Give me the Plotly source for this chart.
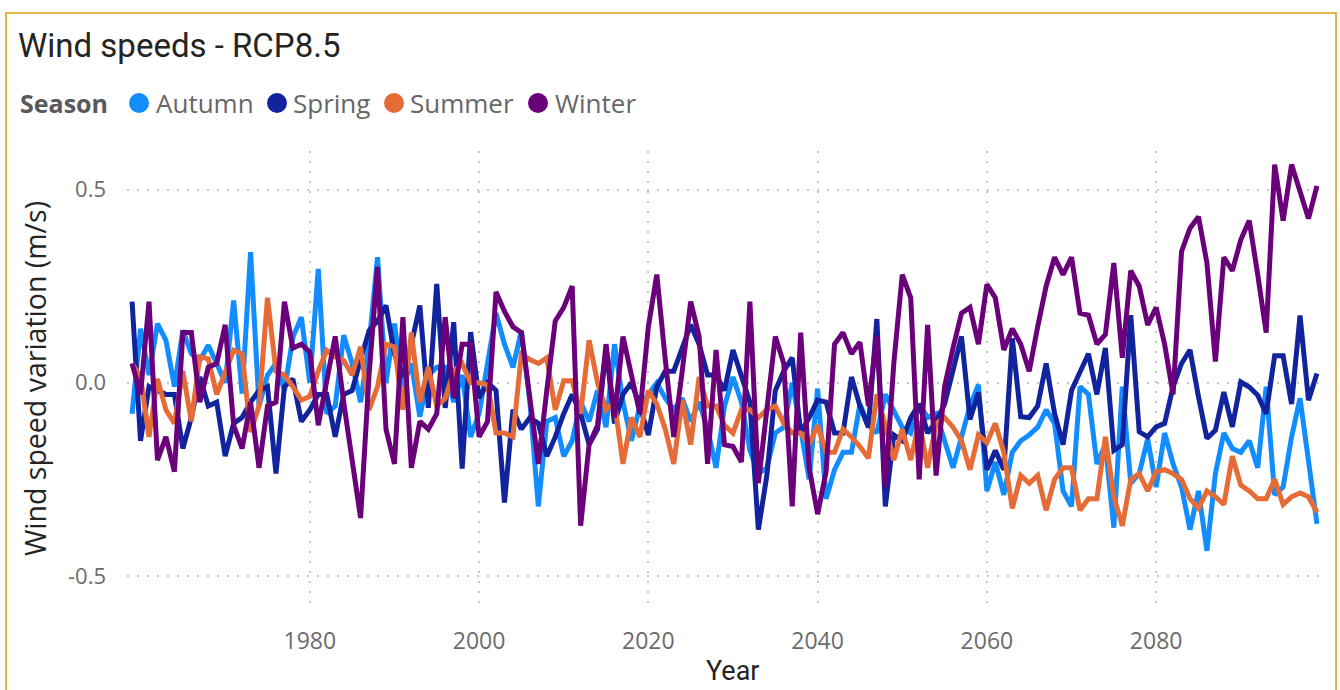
import plotly.graph_objects as go

# -------------------------------
# DATA
# -------------------------------
years = list(range(1959, 2100))

autumn = [
    -0.08,
    0.14, 0.02, 0.153, 0.11, -0.01, 0.136, 0.075, 0.058, 0.097, 0.05,
    0.0, 0.213, -0.028, 0.338, -0.06, 0.02, 0.05, -0.02, 0.118, 0.17,
    0.0, 0.295, -0.08, -0.06, 0.123, 0.05, -0.05, 0.10, 0.325, 0.0,
    0.153, -0.01, 0.05, -0.088, 0.02, 0.04, 0.04, -0.05, 0.02, -0.14,
    -0.08, 0.05, 0.18, 0.10, 0.04, 0.135, -0.05, -0.32, -0.10, -0.09,
    -0.19, -0.15, -0.05, -0.10, -0.02, -0.115, 0.10, -0.05, -0.15, -0.06,
    -0.03, 0.0, -0.04, -0.07, -0.04, -0.10, -0.05, -0.12, -0.22, -0.06,
    0.015, -0.05, -0.175, -0.235, -0.22, -0.13, -0.115, 0.0, -0.12, -0.25,
    -0.015, -0.30, -0.225, -0.18, -0.18, -0.055, -0.11, -0.13, -0.03, -0.075,
    -0.115, -0.13, -0.055, -0.09, -0.08, -0.15, -0.22, -0.14, -0.06, -0.005,
    -0.28, -0.205, -0.29, -0.18, -0.15, -0.135, -0.115, -0.07, -0.105, -0.28,
    -0.32, -0.01, -0.03, -0.21, -0.16, -0.375, -0.01, -0.26, -0.235, -0.145,
    -0.27, -0.13, -0.21, -0.27, -0.38, -0.28, -0.435, -0.235, -0.13, -0.17,
    -0.18, -0.15, -0.22, -0.01, -0.29, -0.27, -0.14, -0.04, -0.21, -0.365,
]

spring = [
    0.21,
    -0.15, -0.01, -0.02, -0.03, -0.03, -0.17, -0.09, 0.015, -0.06, -0.05,
    -0.19, -0.105, -0.09, -0.05, -0.02, -0.01, -0.235, -0.01, 0.01, -0.10,
    -0.07, -0.03, -0.03, -0.14, -0.03, -0.02, 0.06, 0.135, 0.16, 0.20,
    0.075, 0.015, 0.10, 0.20, -0.065, 0.256, -0.065, 0.157, -0.222, 0.131,
    -0.04, 0.0, -0.02, -0.31, -0.07, -0.12, -0.09, -0.105, -0.19, -0.14,
    -0.08, -0.03, -0.08, -0.16, -0.12, 0.09, -0.105, -0.03, 0.0, -0.06,
    -0.135, -0.01, 0.03, 0.03, 0.09, 0.15, 0.10, 0.02, 0.02, -0.02,
    0.085, 0.015, -0.05, -0.38, -0.24, -0.02, 0.03, 0.065, -0.13, -0.09,
    -0.045, -0.05, -0.13, -0.13, 0.015, -0.06, -0.115, 0.165, -0.32, -0.135,
    -0.15, -0.09, -0.055, -0.13, -0.10, -0.055, 0.03, 0.12, -0.095, -0.025,
    -0.225, -0.175, -0.225, 0.115, -0.088, -0.09, -0.06, 0.05, -0.08, -0.16,
    -0.02, 0.03, 0.075, -0.03, 0.09, -0.175, -0.16, 0.175, -0.127, -0.14,
    -0.114, -0.105, -0.01, 0.05, 0.085, -0.036, -0.144, -0.123, -0.024, -0.114,
    0.002, -0.011, -0.032, -0.08, 0.07, 0.07, -0.055, 0.174, -0.045, 0.024,
]

summer = [
    0.05,
    0.015, -0.14, 0.01, -0.07, -0.105, 0.03, -0.10, 0.067, 0.062, -0.03,
    0.03, 0.084, 0.075, -0.127, -0.06, 0.22, 0.03, 0.02, -0.01, -0.045,
    -0.035, 0.03, 0.084, 0.067, 0.058, 0.02, 0.093, -0.07, -0.01, 0.10,
    0.093, -0.07, 0.13, -0.05, 0.04, -0.06, -0.04, 0.03, 0.05, 0.0,
    0.0, -0.005, -0.13, -0.13, -0.14, 0.075, 0.06, 0.05, 0.065, -0.07,
    0.005, 0.005, -0.08, 0.11, 0.0, -0.07, -0.05, -0.21, -0.09, -0.14,
    -0.02, -0.055, -0.12, -0.21, -0.045, -0.16, 0.015, -0.06, -0.06, -0.11,
    -0.13, -0.07, -0.07, -0.09, -0.07, -0.06, -0.105, -0.13, -0.13, -0.16,
    -0.11, -0.18, -0.18, -0.12, -0.14, -0.165, -0.195, -0.03, -0.11, -0.20,
    -0.12, -0.20, -0.10, -0.22, -0.105, -0.09, -0.115, -0.15, -0.225, -0.135,
    -0.155, -0.105, -0.18, -0.325, -0.24, -0.26, -0.24, -0.33, -0.25, -0.22,
    -0.22, -0.33, -0.30, -0.30, -0.14, -0.295, -0.37, -0.25, -0.235, -0.28,
    -0.23, -0.225, -0.235, -0.25, -0.30, -0.325, -0.28, -0.295, -0.315, -0.19,
    -0.265, -0.28, -0.30, -0.30, -0.25, -0.315, -0.295, -0.285, -0.295, -0.335,
]

winter = [
    0.05,
    -0.03, 0.21, -0.20, -0.14, -0.23, 0.13, 0.13, -0.05, 0.04, 0.05,
    0.15, -0.11, -0.17, -0.05, -0.22, -0.06, -0.05, 0.21, 0.09, 0.10,
    0.08, -0.11, 0.00, 0.12, -0.05, -0.20, -0.35, 0.02, 0.30, -0.12,
    -0.21, 0.17, -0.22, -0.10, -0.12, -0.08, 0.17, -0.04, 0.10, 0.10,
    -0.14, -0.10, 0.235, 0.185, 0.145, 0.13, -0.04, -0.21, -0.02, 0.16,
    0.195, 0.25, -0.37, -0.16, -0.11, 0.10, -0.09, 0.12, 0.02, -0.08,
    0.145, 0.28, 0.06, -0.14, 0.03, 0.21, 0.12, -0.21, 0.085, -0.16,
    -0.165, -0.205, 0.21, -0.26, -0.07, 0.12, 0.05, -0.32, 0.13, -0.22,
    -0.34, -0.23, 0.10, 0.13, 0.075, 0.105, -0.06, 0.12, -0.27, 0.05,
    0.28, 0.22, -0.25, 0.15, -0.24, -0.01, 0.09, 0.18, 0.195, 0.10,
    0.255, 0.22, 0.085, 0.14, 0.10, 0.03, 0.145, 0.25, 0.325, 0.28,
    0.325, 0.18, 0.175, 0.10, 0.125, 0.31, 0.065, 0.29, 0.25, 0.15,
    0.195, 0.10, -0.03, 0.34, 0.40, 0.43, 0.31, 0.055, 0.325, 0.29,
    0.37, 0.42, 0.28, 0.13, 0.565, 0.42, 0.565, 0.50, 0.425, 0.51,
]

season_names = ["Autumn", "Spring", "Summer", "Winter"]
season_colors = ["#118DFF", "#12239E", "#E66C37", "#6B007B"]
x_ticks = [1980, 2000, 2020, 2040, 2060, 2080]
y_ticks = [-0.5, 0.0, 0.5]
y_tick_text = ["-0.5", "0.0", "0.5"]

# -------------------------------
# LAYOUT HELPERS (pixel -> paper)
# -------------------------------
W, H = 1340, 690
L, R, T, B = 127, 1325, 151, 603


def px(x):
    return (x - L) / (R - L)


def py(y):
    return (B - y) / (B - T)


fig = go.Figure()

for name, vals, color in zip(season_names, [autumn, spring, summer, winter], season_colors):
    fig.add_trace(go.Scatter(
        x=years, y=vals, mode="lines", name=name,
        line=dict(color=color, width=5),
        showlegend=False,
    ))

grid = dict(showgrid=True, gridcolor="#C4C4C4", gridwidth=1.5, griddash="2px,8px",
            zeroline=False, showline=False)

fig.update_xaxes(
    range=[1958.4, 2099.95], tickvals=x_ticks,
    tickfont=dict(family="Open Sans", size=23, color="#6B6B6B"),
    ticklabelstandoff=22, **grid,
)
fig.update_yaxes(
    range=[-0.57, 0.6], tickvals=y_ticks, ticktext=y_tick_text,
    tickfont=dict(family="Open Sans", size=22, color="#6B6B6B"),
    ticklabelstandoff=20, **grid,
)

# legend drawn by hand, Power BI style
legend_circles = [139, 277, 394, 538]
legend_text_x = [154, 291, 408, 553]
annotations = [
    dict(text="<b>Season</b>", x=px(18), y=py(103), xanchor="left", yanchor="middle",
         font=dict(family="Open Sans", size=25, color="#595959")),
    dict(text="Wind speed variation (m/s)", x=px(35), y=py(379), textangle=-90,
         xanchor="center", yanchor="middle",
         font=dict(family="Open Sans", size=28.5, color="#252423")),
    dict(text="Year", x=px(733), y=py(671), xanchor="center", yanchor="middle",
         font=dict(family="Roboto", size=27, color="#252423")),
]
shapes = [
    dict(type="rect", x0=px(6), x1=px(1336), y0=py(720), y1=py(13),
         line=dict(color="#E9B447", width=2), fillcolor="rgba(0,0,0,0)", layer="below"),
]
for name, color, cx, tx in zip(season_names, season_colors, legend_circles, legend_text_x):
    shapes.append(dict(type="circle", x0=px(cx - 10), x1=px(cx + 10), y0=py(113), y1=py(93),
                       fillcolor=color, line=dict(width=0)))
    annotations.append(dict(text=name, x=px(tx), y=py(103), xanchor="left", yanchor="middle",
                            font=dict(family="Open Sans", size=26, color="#666666")))

for a in annotations:
    a.update(xref="paper", yref="paper", showarrow=False)
for s in shapes:
    s.update(xref="paper", yref="paper")

fig.update_layout(
    width=W, height=H,
    margin=dict(l=L, r=W - R, t=T, b=H - B, autoexpand=False),
    paper_bgcolor="white", plot_bgcolor="white",
    title=dict(text="Wind speeds - RCP8.5", x=18 / W, xanchor="left", xref="container",
               y=1 - 45 / H, yanchor="middle", yref="container",
               font=dict(family="Roboto", size=33, color="#252423")),
    annotations=annotations, shapes=shapes,
    showlegend=False,
)

# drop the browser's default 8px page margin so the figure sits at (0, 0)
fig.write_html("out.html", config={"displayModeBar": False},
               post_script="document.body.style.margin='0px';")
